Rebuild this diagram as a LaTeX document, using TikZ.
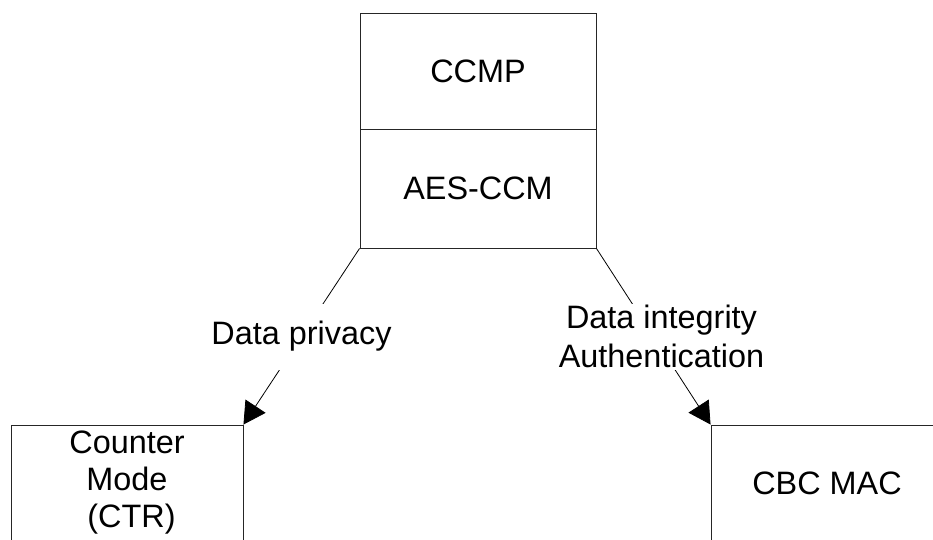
\documentclass[tikz,border=0pt]{standalone}
\usepackage{fontspec}
\setmainfont{Liberation Sans}
\usetikzlibrary{arrows.meta}

\begin{document}
\begin{tikzpicture}[x=1pt,y=-1pt]
\tikzstyle{every node}+=[inner sep=0pt,font=\fontsize{32.4}{37}\selectfont]
\tikzstyle{block}=[draw=black!85,line width=0.9pt,rectangle,align=center]
\tikzstyle{flow}=[draw=black,line width=0.8pt,-{Triangle[length=22pt,width=24pt]}]
\tikzstyle{tag}=[fill=white,align=center,minimum height=66pt,font=\fontsize{32.4}{39}\selectfont]
\clip (0,0) rectangle (933,539);
\node [block,minimum width=236pt,minimum height=116pt] (ccmp) at (478,71) {CCMP};
\node [block,minimum width=236pt,minimum height=119pt] (aes) at (478,188.5) {AES-CCM};
\node [block,minimum width=232pt,minimum height=116pt] (ctr) at (127,483) {Counter\\Mode\\\ (CTR)};
\node [block,minimum width=232pt,minimum height=116pt] (cbc) at (827,483) {CBC MAC};
\draw [flow] (aes.south west) -- node [tag] (privacy) {Data privacy} (ctr.north east);
\draw [flow] (aes.south east) -- node [tag,xshift=8pt] (integrity) {Data integrity\\Authentication} (cbc.north west);
\end{tikzpicture}
\end{document}
